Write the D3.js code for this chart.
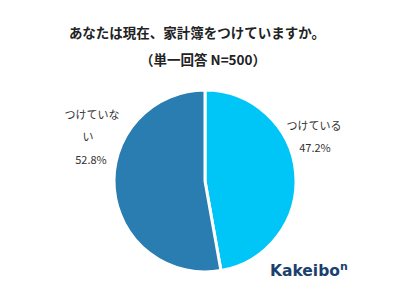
<!DOCTYPE html>
<html><head><meta charset="utf-8">
<script src="https://cdn.jsdelivr.net/npm/d3@7"></script>
<style>body{margin:0;background:#fff;}svg{display:block;}</style>
</head><body>
<svg id="c" width="400" height="300"></svg>
<script>
const categories = ["つけている", "つけていない"];
const values = [47.2, 52.8];
const colors = ["#00C6F7", "#2A7DB0"];
const title = "あなたは現在、家計簿をつけていますか。";
const subtitle = "（単一回答 N=500）";

const svg = d3.select("#c");
const font = "'Noto Sans CJK JP', 'Noto Sans', sans-serif";
svg.append("rect").attr("width",400).attr("height",300).attr("fill","#fff");

svg.append("text").attr("x",197).attr("y",38).attr("text-anchor","middle")
  .attr("font-family",font).attr("font-weight","bold").attr("font-size",13.5).attr("fill","#222").text(title);
svg.append("text").attr("x",203).attr("y",65).attr("text-anchor","middle")
  .attr("font-family",font).attr("font-weight","bold").attr("font-size",13.5).attr("fill","#222").text(subtitle);

const cx = 205, cy = 181, r = 91;
const pie = d3.pie().sort(null).value(d => d)(values);
const arc = d3.arc().innerRadius(0).outerRadius(r);
const g = svg.append("g").attr("transform",`translate(${cx},${cy})`);
g.selectAll("path").data(pie).join("path")
  .attr("d",arc).attr("fill",(d,i)=>colors[i]).attr("stroke","#fff").attr("stroke-width",3);

const lab = svg.append("g").attr("font-family",font).attr("font-size",11).attr("fill","#333").attr("text-anchor","middle");
lab.append("text").attr("x",314).attr("y",130).text(categories[0]);
lab.append("text").attr("x",315).attr("y",152).text(values[0].toFixed(1)+"%");
lab.append("text").attr("x",92).attr("y",119).text("つけていな");
lab.append("text").attr("x",88).attr("y",141).text("い");
lab.append("text").attr("x",91).attr("y",164).text(values[1].toFixed(1)+"%");

const logo = svg.append("text").attr("x",270).attr("y",276).attr("font-family","'DejaVu Sans', sans-serif")
  .attr("font-weight","bold").attr("font-size",15.5).attr("fill","#1B3F6E");
logo.append("tspan").text("Kakeibo");
logo.append("tspan").attr("font-size",11).attr("dy",-6).text("n");
</script>
</body></html>
